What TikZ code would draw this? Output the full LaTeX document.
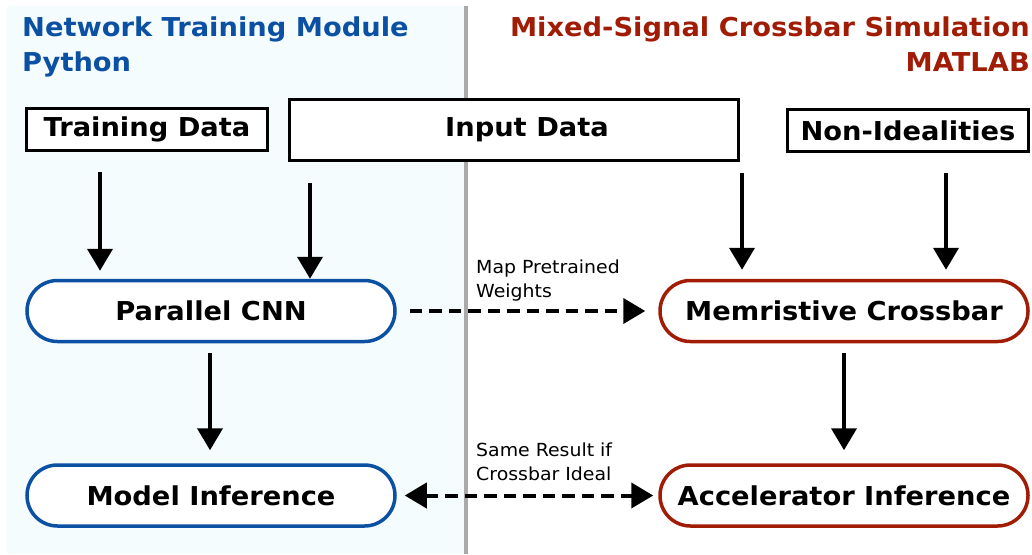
\documentclass[tikz,border=0pt]{standalone}
\usepackage{fontspec}
\setmainfont[FakeStretch=1.05]{DejaVu Sans}
\usepackage{xcolor}
\usetikzlibrary{arrows.meta,shapes.misc}
\definecolor{pyblue}{RGB}{12,80,164}
\definecolor{mlred}{RGB}{160,28,4}
\definecolor{panelcyan}{RGB}{244,252,253}
\definecolor{divgray}{RGB}{170,170,170}

\begin{document}
\begin{tikzpicture}[x=1pt, y=-1pt,
  every node/.style={font=\fontsize{26}{35}\selectfont\bfseries},
  databox/.style={draw, line width=3.5pt, inner sep=0pt, fill=white, minimum height=42pt},
  pill/.style={draw, rounded rectangle, line width=3.5pt, fill=white, text=black,
    minimum width=368pt, minimum height=61pt, inner sep=0pt},
  arr/.style={-{Triangle[length=22pt,width=25pt]}, line width=4pt},
  dasharr/.style={arr, dash pattern=on 12.5pt off 7pt},
  note/.style={font=\fontsize{18}{24}\selectfont, align=left, anchor=north west, inner sep=0pt}]
  \useasboundingbox (0,0) rectangle (1032,554);

  % Python side panel and the divider
  \fill[panelcyan] (7,6) rectangle (465,554);
  \draw[divgray, line width=4pt] (466,6) -- (466,554);

  \node[pyblue, align=left, anchor=north west, inner sep=0pt] (pytitle) at (22,17)
    {Network Training Module\\Python};
  \node[mlred, align=right, anchor=north east, inner sep=0pt] (mltitle) at (1030,17)
    {Mixed-Signal Crossbar Simulation\\MATLAB};

  % inputs
  \node[databox, minimum width=241pt] (train) at (147,129.5) {Training Data};
  \node[databox, minimum width=449pt, minimum height=61pt] (input) at (514,130)
    {\hspace*{26pt}Input Data};
  \node[databox, minimum width=241pt] (nonideal) at (908,130.5) {Non-Idealities};

  % processing stages
  \node[pill, draw=pyblue] (cnn) at (211,311) {Parallel CNN};
  \node[pill, draw=pyblue] (infer) at (211,495.5) {Model Inference};
  \node[pill, draw=mlred] (xbar) at (844,311) {Memristive Crossbar};
  \node[pill, draw=mlred] (accel) at (844,495.5) {Accelerator Inference};

  \draw[arr, shorten <=20pt, shorten >=8pt] ([xshift=-47pt]train.south) -- ([xshift=-111pt]cnn.north);
  \draw[arr, shorten <=21pt] ([xshift=-204pt]input.south) -- ([xshift=99pt]cnn.north);
  \draw[arr, shorten <=11pt, shorten >=9pt] ([xshift=228pt]input.south) -- ([xshift=-102pt]xbar.north);
  \draw[arr, shorten <=20pt, shorten >=9pt] ([xshift=38pt]nonideal.south) -- ([xshift=102pt]xbar.north);
  \draw[arr, shorten <=10pt, shorten >=13pt] ([xshift=-1pt]cnn.south) -- ([xshift=-1pt]infer.north);
  \draw[arr, shorten <=10pt, shorten >=13pt] (xbar.south) -- (accel.north);

  \draw[dasharr, shorten <=13pt, shorten >=13pt] (cnn.east) -- (xbar.west);
  \draw[dasharr, {Triangle[length=22pt,width=25pt]}-{Triangle[length=22pt,width=25pt]},
    shorten <=8pt, shorten >=5pt] (infer.east) -- (accel.west);

  \node[note] (maplbl) at (476,260) {Map Pretrained\\Weights};
  \node[note] (samelbl) at (476,443) {Same Result if\\Crossbar Ideal};
\end{tikzpicture}
\end{document}
